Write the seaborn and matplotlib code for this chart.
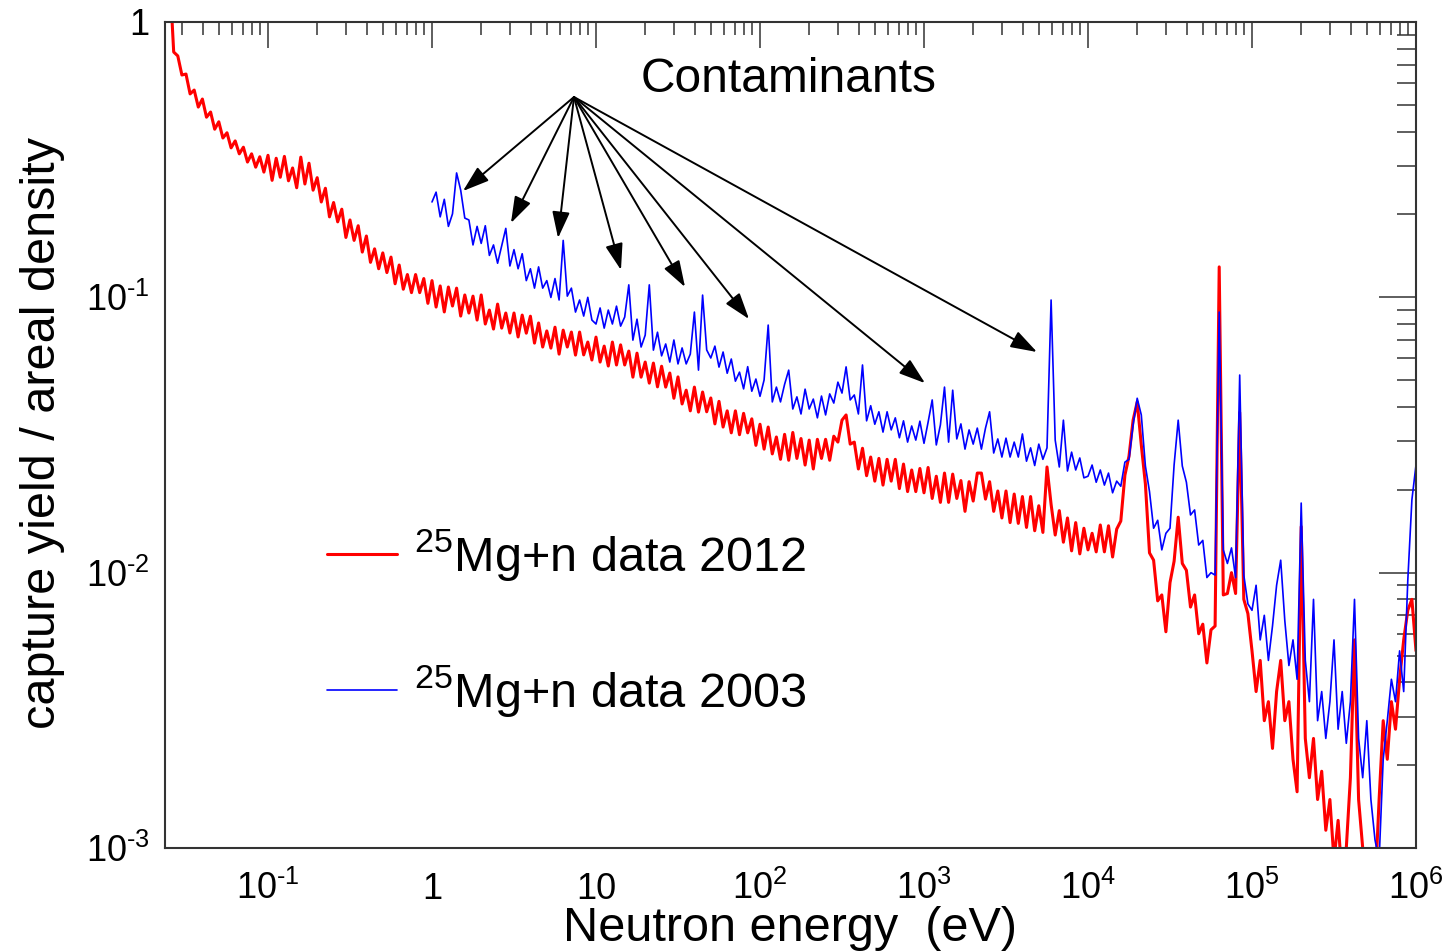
import numpy as np
import pandas as pd
import matplotlib
matplotlib.use("Agg")
import matplotlib.pyplot as plt
import seaborn as sns
from matplotlib.ticker import FixedLocator, LogLocator, FuncFormatter, NullFormatter

# ---------------- data ----------------
# energy grid: log-spaced bins, 40 per decade
bins_per_decade = 40
red_log_e_start = -1.6
blue_log_e_start = 0.0

# 2012 data (red), grouped per energy decade
red_seg_low = [1.5, 0.778, 0.753, 0.642, 0.647, 0.548, 0.566, 0.491, 0.525, 0.451,
               0.471, 0.408, 0.434, 0.379, 0.396, 0.349, 0.370, 0.332, 0.351, 0.310,
               0.332, 0.297, 0.324, 0.285]
red_dec_m1 = [0.328, 0.266, 0.320, 0.273, 0.325, 0.265, 0.295, 0.250, 0.323, 0.258,
              0.307, 0.245, 0.272, 0.222, 0.249, 0.196, 0.221, 0.188, 0.209, 0.165,
              0.191, 0.161, 0.182, 0.146, 0.167, 0.134, 0.150, 0.127, 0.145, 0.123,
              0.140, 0.112, 0.131, 0.107, 0.121, 0.104, 0.121, 0.104, 0.117, 0.0951]
red_dec_0 = [0.115, 0.0922, 0.110, 0.0885, 0.109, 0.0930, 0.108, 0.0855, 0.102, 0.0877,
             0.101, 0.0827, 0.102, 0.0800, 0.0899, 0.0767, 0.0945, 0.0773, 0.0877, 0.0742,
             0.0877, 0.0718, 0.0862, 0.0741, 0.0854, 0.0682, 0.0807, 0.0660, 0.0755, 0.0654,
             0.0779, 0.0622, 0.0760, 0.0660, 0.0748, 0.0617, 0.0748, 0.0618, 0.0688, 0.0592]
red_dec_1 = [0.0717, 0.0582, 0.0665, 0.0563, 0.0688, 0.0568, 0.0672, 0.0568, 0.0638, 0.0513,
             0.0627, 0.0513, 0.0582, 0.0488, 0.0577, 0.0473, 0.0562, 0.0472, 0.0531, 0.0430,
             0.0514, 0.0410, 0.0460, 0.0387, 0.0472, 0.0383, 0.0453, 0.0384, 0.0431, 0.0347,
             0.0419, 0.0338, 0.0387, 0.0322, 0.0387, 0.0317, 0.0379, 0.0322, 0.0362, 0.0290]
red_dec_2 = [0.0346, 0.0281, 0.0338, 0.0270, 0.0311, 0.0258, 0.0318, 0.0256, 0.0323, 0.0260,
             0.0307, 0.0246, 0.0303, 0.0238, 0.0305, 0.0260, 0.0305, 0.0256, 0.0313, 0.0298,
             0.0358, 0.0374, 0.0293, 0.0298, 0.0238, 0.0283, 0.0225, 0.0263, 0.0215, 0.0260,
             0.0208, 0.0258, 0.0215, 0.0258, 0.0202, 0.0248, 0.0197, 0.0236, 0.0197, 0.0239]
red_dec_3 = [0.0195, 0.0241, 0.0186, 0.0224, 0.0180, 0.0230, 0.0180, 0.0228, 0.0186, 0.0216,
             0.0167, 0.0214, 0.0182, 0.0230, 0.0230, 0.0185, 0.0214, 0.0167, 0.0198, 0.0158,
             0.0198, 0.0152, 0.0193, 0.0151, 0.0189, 0.0146, 0.0189, 0.0142, 0.0175, 0.0140,
             0.0242, 0.0177, 0.0137, 0.0168, 0.0129, 0.0158, 0.0120, 0.0152, 0.0117, 0.0145]
red_dec_4 = [0.0121, 0.0139, 0.0119, 0.0149, 0.0119, 0.0148, 0.0114, 0.0144, 0.0154, 0.0226,
             0.0265, 0.0358, 0.0417, 0.0291, 0.0210, 0.0118, 0.0111, 0.0079, 0.0083, 0.0061,
             0.0092, 0.0110, 0.0159, 0.0108, 0.0102, 0.0075, 0.0083, 0.0060, 0.0065, 0.0047,
             0.0062, 0.0064, 0.129, 0.0083, 0.0084, 0.0100, 0.0084, 0.0382, 0.0080, 0.0071]
red_dec_5 = [0.0052, 0.0037, 0.0048, 0.0029, 0.0034, 0.0023, 0.0037, 0.0048, 0.0029, 0.0034,
             0.0021, 0.0016, 0.0147, 0.0025, 0.0018, 0.0025, 0.0015, 0.0019, 0.00116, 0.0015,
             0.0009, 0.00126, 0.00076, 0.0010, 0.0018, 0.0057, 0.0015, 0.0010, 0.00076, 0.0009,
             0.0007, 0.0015, 0.0029, 0.0021, 0.0034, 0.0027, 0.0041, 0.0057, 0.0073, 0.0080,
             0.0052]

# 2003 data (blue), grouped per energy decade
blue_dec_0 = [0.222, 0.241, 0.196, 0.227, 0.181, 0.201, 0.283, 0.245, 0.194, 0.191,
              0.155, 0.181, 0.157, 0.182, 0.142, 0.155, 0.133, 0.154, 0.178, 0.130,
              0.149, 0.127, 0.144, 0.115, 0.127, 0.108, 0.129, 0.108, 0.115, 0.0999,
              0.117, 0.0978, 0.161, 0.101, 0.108, 0.0884, 0.0978, 0.0855, 0.100, 0.0827]
blue_dec_1 = [0.0800, 0.0915, 0.0773, 0.0899, 0.0800, 0.0929, 0.0786, 0.0848, 0.111, 0.0699,
              0.0833, 0.0660, 0.0729, 0.111, 0.0643, 0.0747, 0.0613, 0.0677, 0.0582, 0.0700,
              0.0573, 0.0655, 0.0573, 0.0622, 0.0884, 0.0544, 0.1019, 0.0644, 0.0602, 0.0665,
              0.0558, 0.0633, 0.0530, 0.0597, 0.0496, 0.0535, 0.0465, 0.0560, 0.0456, 0.0505]
blue_dec_2 = [0.0437, 0.0501, 0.0793, 0.0417, 0.0472, 0.0417, 0.0483, 0.0544, 0.0393, 0.0435,
              0.0377, 0.0464, 0.0393, 0.0427, 0.0365, 0.0438, 0.0374, 0.0446, 0.0413, 0.0492,
              0.0449, 0.0559, 0.0424, 0.0442, 0.0377, 0.0568, 0.0356, 0.0404, 0.0346, 0.0384,
              0.0324, 0.0384, 0.0330, 0.0365, 0.0309, 0.0356, 0.0298, 0.0341, 0.0303, 0.0355]
blue_dec_3 = [0.0295, 0.0352, 0.0424, 0.0291, 0.0344, 0.0472, 0.0298, 0.0460, 0.0306, 0.0347,
              0.0281, 0.0330, 0.0293, 0.0335, 0.0281, 0.0335, 0.0384, 0.0272, 0.0306, 0.0263,
              0.0308, 0.0263, 0.0298, 0.0263, 0.0319, 0.0254, 0.0284, 0.0245, 0.0293, 0.0258,
              0.0284, 0.0978, 0.0303, 0.0242, 0.0358, 0.0234, 0.0274, 0.0236, 0.0261, 0.0221]
blue_dec_4 = [0.0224, 0.0246, 0.0213, 0.0236, 0.0208, 0.0230, 0.0195, 0.0215, 0.0206, 0.0252,
              0.0258, 0.0344, 0.0430, 0.0374, 0.0244, 0.0197, 0.0145, 0.0155, 0.0121, 0.0139,
              0.0145, 0.0246, 0.0358, 0.0244, 0.0213, 0.0162, 0.0169, 0.0126, 0.0131, 0.0096,
              0.0100, 0.0098, 0.0884, 0.0121, 0.0108, 0.0123, 0.0096, 0.0522, 0.0098, 0.0077]
blue_dec_5 = [0.0073, 0.0090, 0.0057, 0.0070, 0.0048, 0.0064, 0.0090, 0.0111, 0.0067, 0.0046,
              0.0057, 0.0041, 0.0179, 0.0048, 0.0034, 0.0080, 0.0029, 0.0037, 0.0025, 0.0034,
              0.0057, 0.0027, 0.0037, 0.0024, 0.0034, 0.0080, 0.0025, 0.0018, 0.0029, 0.0015,
              0.00107, 0.0009, 0.0021, 0.0029, 0.0041, 0.0034, 0.0052, 0.0037, 0.0094, 0.0184,
              0.0246]
blue_end_value = 1e-5   # the 2003 trace drops to zero at the last bin

# contaminant peaks pointed at by the arrows (energy in eV, yield)
contam_origin = (7.34, 0.534)
contam_E = [1.545, 3.03, 5.87, 14.2, 34.9, 85.7, 1014.0, 4887.0]
contam_Y = [0.2433, 0.1862, 0.1642, 0.1257, 0.109, 0.0834, 0.0488, 0.0633]

# axis tick values
x_major_ticks = [1e-1, 1, 10, 1e2, 1e3, 1e4, 1e5, 1e6]
y_major_ticks = [1e-3, 1e-2, 1e-1, 1]

label_2012 = r"$^{25}$Mg+n data 2012"
label_2003 = r"$^{25}$Mg+n data 2003"
xlabel = "Neutron energy  (eV)"
ylabel = "capture yield / areal density"
annot_text = "Contaminants"

# ---------------- assemble ----------------
red_y = np.concatenate([red_seg_low, red_dec_m1, red_dec_0, red_dec_1, red_dec_2,
                        red_dec_3, red_dec_4, red_dec_5])
red_E = 10 ** (red_log_e_start + np.arange(len(red_y)) / bins_per_decade)

blue_vals = np.concatenate([blue_dec_0, blue_dec_1, blue_dec_2, blue_dec_3,
                            blue_dec_4, blue_dec_5])
blue_E = 10 ** (blue_log_e_start + np.arange(len(blue_vals)) / bins_per_decade)
blue_E = np.append(blue_E, blue_E[-1])
blue_y = np.append(blue_vals, blue_end_value)

df_red = pd.DataFrame({"E": red_E, "Y": red_y})
df_blue = pd.DataFrame({"E": blue_E, "Y": blue_y})

# ---------------- style ----------------
sns.set_style("white")
plt.rcParams["font.family"] = ["Liberation Sans", "DejaVu Sans"]
plt.rcParams["text.color"] = "black"
plt.rcParams["axes.labelcolor"] = "black"
plt.rcParams["mathtext.fontset"] = "custom"
plt.rcParams["mathtext.rm"] = "Liberation Sans"
plt.rcParams["mathtext.it"] = "Liberation Sans:italic"
plt.rcParams["mathtext.bf"] = "Liberation Sans:bold"
plt.rcParams["mathtext.sf"] = "Liberation Sans"

W, H = 1445, 952
fig = plt.figure(figsize=(W / 100, H / 100), dpi=100)
ax = fig.add_axes([165 / W, (H - 848) / H, 1251 / W, 826 / H])
ax.set_xscale("log")
ax.set_yscale("log")

sns.lineplot(data=df_red, x="E", y="Y", ax=ax, color="#ff0000", linewidth=2.2,
             estimator=None, sort=False, label=label_2012)
sns.lineplot(data=df_blue, x="E", y="Y", ax=ax, color="#0000ff", linewidth=1.2,
             estimator=None, sort=False, label=label_2003)

ax.set_xlim(10 ** -1.628, 1e6)
ax.set_ylim(1e-3, 1)
ax.set_xlabel("")
ax.set_ylabel("")

# ticks
ax.xaxis.set_major_locator(FixedLocator(x_major_ticks))
ax.xaxis.set_minor_locator(LogLocator(base=10, subs=np.arange(2, 10), numticks=30))
ax.yaxis.set_major_locator(FixedLocator(y_major_ticks))
ax.yaxis.set_minor_locator(LogLocator(base=10, subs=np.arange(2, 10), numticks=30))


def pow_label(e):
    if e < 0:
        return r"$10^{\text{-}%d}$" % abs(e)
    return r"$10^{%d}$" % e


def xfmt(v, pos):
    e = int(round(np.log10(v)))
    if e == 0:
        return "1"
    if e == 1:
        return "10"
    return pow_label(e)


def yfmt(v, pos):
    e = int(round(np.log10(v)))
    if e == 0:
        return "1"
    return pow_label(e)


ax.xaxis.set_major_formatter(FuncFormatter(xfmt))
ax.yaxis.set_major_formatter(FuncFormatter(yfmt))
ax.xaxis.set_minor_formatter(NullFormatter())
ax.yaxis.set_minor_formatter(NullFormatter())

frame_col = "#333333"
ax.tick_params(which="both", direction="in", top=True, right=True,
               color=frame_col, labelcolor="black", labelsize=26, width=1.1)
ax.tick_params(axis="x", which="major", length=18.7, pad=37)
ax.tick_params(axis="x", which="minor", length=9.4)
ax.tick_params(axis="y", which="major", length=27, pad=11)
ax.tick_params(axis="y", which="minor", length=13.7)
for s in ax.spines.values():
    s.set_color(frame_col)
    s.set_linewidth(1.5)

# legend
handles, labels = ax.get_legend_handles_labels()
leg = ax.legend(handles, labels, loc="center left",
                bbox_to_anchor=((327 - 165) / 1251, (848 - 623) / 826),
                frameon=False, fontsize=35, handlelength=1.45, handletextpad=0.33,
                labelspacing=1.65, borderpad=0, borderaxespad=0)

# annotation
ax.text((789 - 165) / 1251, (848 - 92) / 826, annot_text, transform=ax.transAxes,
        ha="center", va="baseline", fontsize=34.5)
for e, y in zip(contam_E, contam_Y):
    ax.annotate("", xy=(e, y), xytext=contam_origin,
                arrowprops=dict(arrowstyle="-|>,head_length=0.45,head_width=0.15",
                                color="black", lw=1.4, mutation_scale=36,
                                shrinkA=0, shrinkB=0))

# axis titles
fig.text(790 / W, (H - 941) / H, xlabel, ha="center", va="baseline", fontsize=35)
fig.text(43 / W, 1 - 433 / H, ylabel, ha="center", va="center", rotation=90, fontsize=35)

fig.canvas.draw()
for t in ax.xaxis.get_major_ticks():
    t.label1.set_verticalalignment("baseline")

fig.savefig("out.png", dpi=100, facecolor="white")
